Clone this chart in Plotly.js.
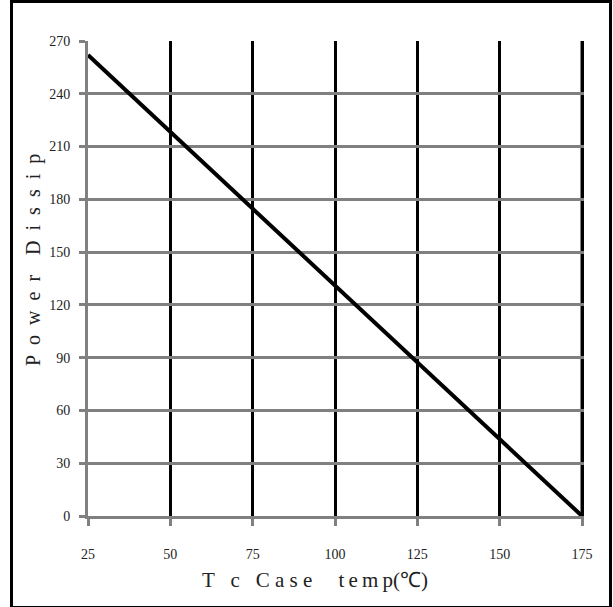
<!DOCTYPE html>
<html>
<head>
<meta charset="utf-8">
<script src="https://cdn.plot.ly/plotly-3.0.1.min.js"></script>
<style>
  html, body { margin: 0; padding: 0; background: #fff; }
  #wrap { position: relative; width: 613px; height: 607px; }
  #chart { position: absolute; left: 0; top: 0; width: 613px; height: 607px; }
  #frame { position: absolute; left: 10px; top: 0px; width: 596px; height: 603px;
           border: 3px solid #000; pointer-events: none; box-sizing: content-box; }
</style>
</head>
<body>
<div id="wrap">
  <div id="chart"></div>
  <div id="frame"></div>
</div>
<script>
// Data
const caseTemp = [25, 175];          // Tc case temperature (°C)
const powerDissip = [262, 0];        // Power dissipation (W)
const xTicks = [25, 50, 75, 100, 125, 150, 175];
const yTicks = [0, 30, 60, 90, 120, 150, 180, 210, 240, 270];
const EN = "\u2002", NB = "\u00a0", TH = "\u2009", EM = "\u2003";
const xTitle = "T" + EN + NB + "c" + EN + NB + "C" + NB + "a" + NB + "s" + NB + "e" + EM + NB + "t" + TH + "e" + TH + "m" + TH + "p(℃)";
const yTitle = "P\u00a0\u00a0o\u00a0\u00a0w\u00a0\u00a0e\u00a0\u00a0r\u00a0\u00a0\u00a0\u00a0D\u00a0\u00a0i\u00a0\u00a0s\u00a0\u00a0s\u00a0\u00a0i\u00a0\u00a0p";

const serif = "Liberation Serif, Times New Roman, serif";

const trace = {
  x: caseTemp, y: powerDissip, type: "scatter", mode: "lines",
  line: { color: "#000", width: 4 }, hoverinfo: "skip", cliponaxis: false
};

const lastX = xTicks[xTicks.length - 1];

const layout = {
  width: 613, height: 607,
  margin: { l: 88, r: 29, t: 41, b: 91 },
  paper_bgcolor: "#fff", plot_bgcolor: "#fff",
  showlegend: false,
  xaxis: {
    range: [25, 175.6], tickvals: xTicks, ticktext: xTicks.map(String),
    showgrid: true, gridcolor: "#000", gridwidth: 3,
    showline: true, linecolor: "#808080", linewidth: 3,
    ticks: "outside", ticklen: 7, tickwidth: 3, tickcolor: "#808080",
    ticklabelstandoff: 16, zeroline: false,
    tickfont: { family: serif, size: 14, color: "#222" }
  },
  yaxis: {
    range: [0, 270], tickvals: yTicks, ticktext: yTicks.map(String),
    showgrid: true, gridcolor: "#808080", gridwidth: 3,
    showline: true, linecolor: "#808080", linewidth: 3,
    ticks: "outside", ticklen: 6, tickwidth: 3, tickcolor: "#808080",
    ticklabelstandoff: 6, zeroline: false,
    tickfont: { family: serif, size: 14, color: "#222" }
  },
  shapes: [
    // gridline at the last x tick (Plotly omits the edge gridline)
    { type: "line", xref: "x", yref: "paper", x0: lastX, x1: lastX, y0: 0, y1: 1,
      line: { color: "#000", width: 3 }, layer: "between" }
  ],
  annotations: [
    { text: xTitle, xref: "paper", yref: "paper", x: (200 - 88) / 496, y: (516 - 580) / 475,
      xanchor: "left", yanchor: "middle", showarrow: false,
      font: { family: serif, size: 21, color: "#222" } },
    { text: yTitle, xref: "paper", yref: "paper", x: (33 - 88) / 496, y: (516 - 260) / 475,
      xanchor: "center", yanchor: "middle", textangle: -90, showarrow: false,
      font: { family: serif, size: 20, color: "#222" } }
  ]
};

Plotly.newPlot("chart", [trace], layout, { staticPlot: true, displayModeBar: false });
</script>
</body>
</html>
